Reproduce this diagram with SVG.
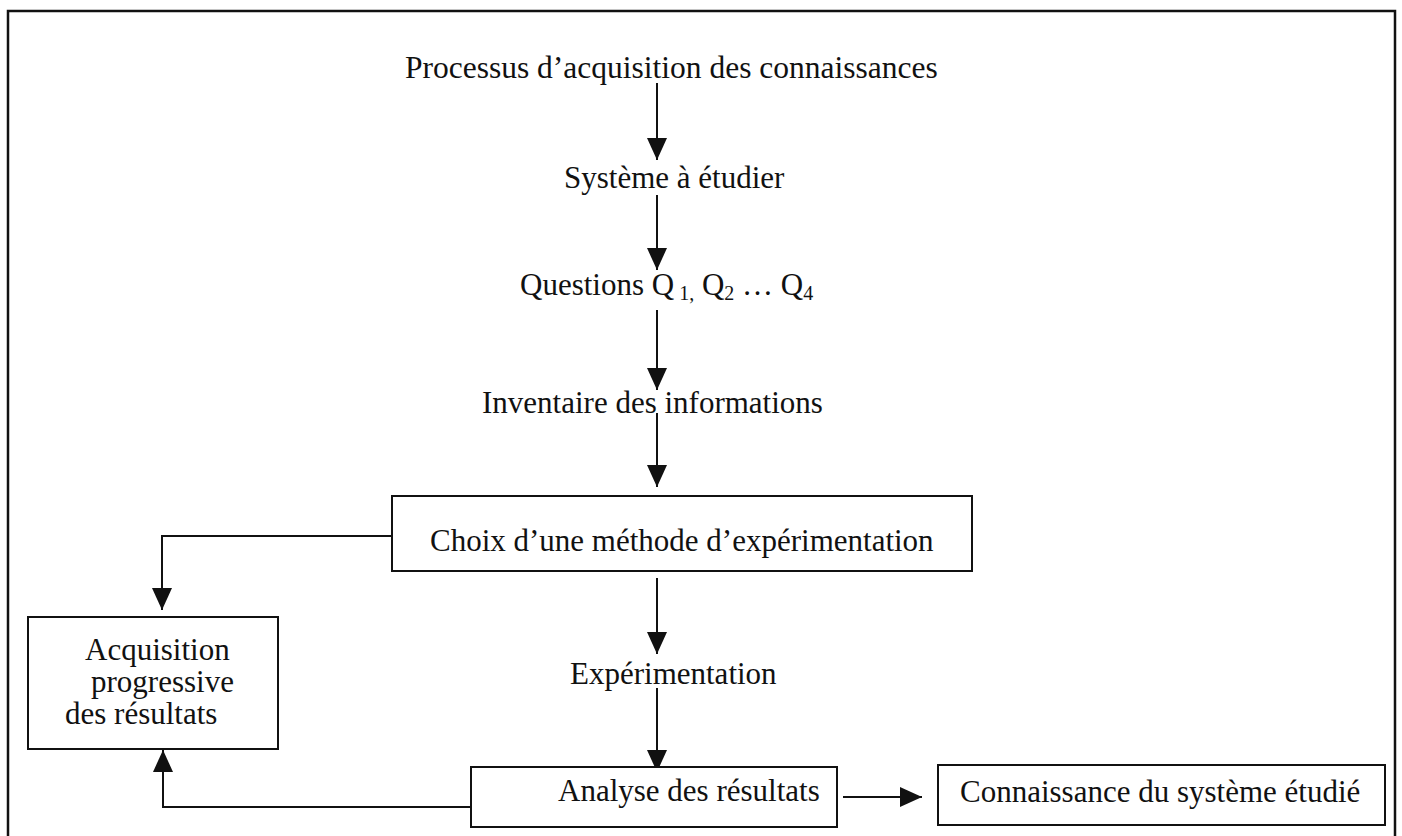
<svg xmlns="http://www.w3.org/2000/svg" width="1402" height="836" viewBox="0 0 1402 836">
  <style>
    text { font-family: "Liberation Serif", "Times New Roman", serif; font-size: 31px; fill: #111; }
    .box { fill: #fff; stroke: #111; stroke-width: 2; }
    .frame { fill: none; stroke: #111; stroke-width: 2.5; }
    .conn { fill: none; stroke: #111; stroke-width: 2; }
    .sub { font-size: 20px; }
  </style>
  <defs>
    <marker id="head" viewBox="0 0 22 20" refX="22" refY="10" markerWidth="22" markerHeight="20" markerUnits="userSpaceOnUse" orient="auto">
      <path d="M0 0 L22 10 L0 20 Z" fill="#111"/>
    </marker>
  </defs>

  <rect width="1402" height="836" fill="#fff"/>
  <!-- outer frame, open at the bottom -->
  <path class="frame" d="M8 836 V11 H1395 V836"/>

  <g id="connectors">
    <path class="conn" d="M657 83 V160" marker-end="url(#head)"/>
    <path class="conn" d="M657 195 V270" marker-end="url(#head)"/>
    <path class="conn" d="M657 310 V390" marker-end="url(#head)"/>
    <path class="conn" d="M657 413 V487" marker-end="url(#head)"/>
    <path class="conn" d="M657 578 V654" marker-end="url(#head)"/>
    <path class="conn" d="M657 688 V772" marker-end="url(#head)"/>
    <path class="conn" d="M843 797 H922" marker-end="url(#head)"/>
    <path class="conn" d="M392 536 H162 V610" marker-end="url(#head)"/>
    <path class="conn" d="M471 807 H163 V750" marker-end="url(#head)"/>
  </g>

  <g id="processus">
    <text x="405" y="78" style="font-size:31.5px">Processus d’acquisition des connaissances</text>
  </g>
  <g id="systeme">
    <text x="564" y="188">Système à étudier</text>
  </g>
  <g id="questions">
    <text x="520" y="295">Questions Q<tspan class="sub" dy="5"> 1,</tspan><tspan dy="-5">  Q</tspan><tspan class="sub" dy="5">2</tspan><tspan dy="-5"> … Q</tspan><tspan class="sub" dy="5">4</tspan></text>
  </g>
  <g id="inventaire">
    <text x="482" y="413">Inventaire des informations</text>
  </g>
  <g id="choix">
    <rect class="box" x="392" y="496" width="580" height="75"/>
    <text x="430" y="551">Choix d’une méthode d’expérimentation</text>
  </g>
  <g id="acquisition">
    <rect class="box" x="28" y="617" width="250" height="132"/>
    <text x="85" y="660">Acquisition</text>
    <text x="91" y="692">progressive</text>
    <text x="65" y="724">des résultats</text>
  </g>
  <g id="experimentation">
    <text x="570" y="684">Expérimentation</text>
  </g>
  <g id="analyse">
    <rect class="box" x="471" y="767" width="366" height="60"/>
    <text x="558" y="801">Analyse des résultats</text>
  </g>
  <g id="connaissance">
    <rect class="box" x="938" y="765" width="447" height="60"/>
    <text x="960" y="802">Connaissance du système étudié</text>
  </g>
</svg>
